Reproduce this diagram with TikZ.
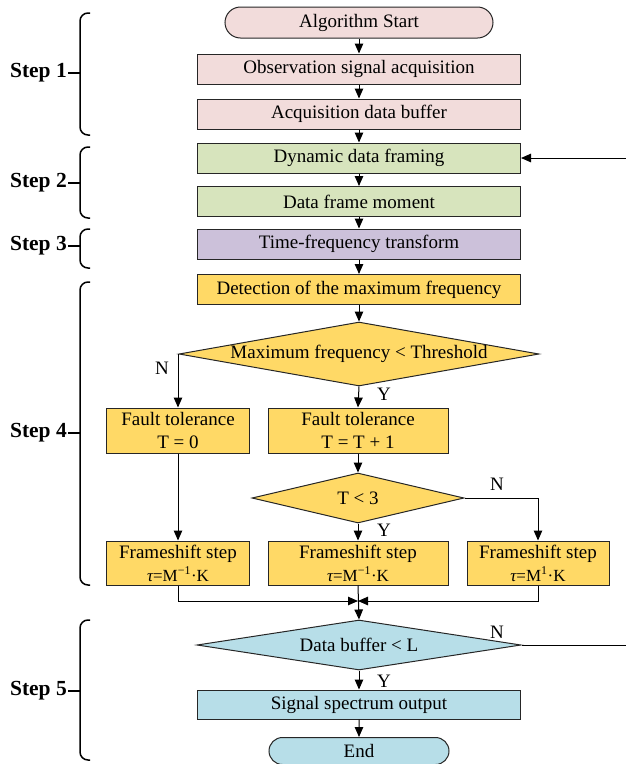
\documentclass[tikz,border=0pt]{standalone}
\usepackage{fontspec}
\setmainfont{Liberation Serif}
\usetikzlibrary{arrows.meta,shapes.geometric,shapes.misc}
\definecolor{pinkbox}{HTML}{F2DCDB}
\definecolor{greenbox}{HTML}{D7E4BD}
\definecolor{purplebox}{HTML}{CCC1DA}
\definecolor{orangebox}{HTML}{FFD966}
\definecolor{bluebox}{HTML}{B7DEE8}
\tikzset{
  >={Triangle[length=10pt,width=8.5pt]},
  box/.style={draw=black!85, line width=1pt, minimum width=323pt, minimum height=30pt, inner sep=0pt, align=center, font=\fontsize{19}{23}\selectfont},
  term/.style={box, rounded rectangle},
  cond/.style={box, diamond, fill=orangebox},
  small/.style={box, fill=orangebox, minimum height=45pt},
  flow/.style={->, line width=1pt},
  yn/.style={font=\fontsize{19}{23}\selectfont},
  steplbl/.style={anchor=east, inner sep=1pt, font=\fontsize{21.5}{25}\selectfont\bfseries},
  bracket/.style={line width=1.5pt, rounded corners=8pt},
}
\newcommand{\shiftrule}[1]{{\fontsize{17}{19}\selectfont\itshape τ\upshape=M\textsuperscript{#1}·K}}

\begin{document}
\begin{tikzpicture}[x=1pt, y=-1pt]
  \useasboundingbox (0,0) rectangle (625,764);

  \node[term, fill=pinkbox, minimum width=268pt, minimum height=31pt] (start) at (359,22.5) {Algorithm Start};
  \node[box, fill=pinkbox] (obs) at (359,69) {Observation signal acquisition};
  \node[box, fill=pinkbox] (acq) at (359,114) {Acquisition data buffer};
  \node[box, fill=greenbox] (dyn) at (359,158) {Dynamic data framing};
  \node[box, fill=greenbox] (dfm) at (359,201.5) {Data frame moment};
  \node[box, fill=purplebox] (tft) at (359,244) {Time-frequency transform};
  \node[box, fill=orangebox] (det) at (359,289.5) {Detection of the maximum frequency};

  \node[cond, minimum width=360pt, minimum height=64pt, aspect=5.6] (maxd) at (359,354) {Maximum frequency < Threshold};
  \node[small, minimum width=143pt] (ft0) at (178,430.5) {Fault tolerance\\T = 0};
  \node[small, minimum width=180pt] (ft1) at (358,430.5) {Fault tolerance\\T = T + 1};
  \node[cond, minimum width=212pt, minimum height=50pt, aspect=4.2] (t3d) at (358,498) {T < 3};

  \node[small, minimum width=143pt, minimum height=44pt] (fs0) at (178,563) {Frameshift step\\\shiftrule{−1}};
  \node[small, minimum width=180pt, minimum height=44pt] (fs1) at (358,563) {Frameshift step\\\shiftrule{−1}};
  \node[small, minimum width=142pt, minimum height=44pt] (fs2) at (538,563) {Frameshift step\\\shiftrule{1}};
  \coordinate (mrg) at (358,601);

  \node[box, diamond, fill=bluebox, minimum width=324pt, minimum height=50pt, aspect=6.5] (dbd) at (359,645) {Data buffer < L};
  \node[box, fill=bluebox, minimum height=29pt] (sso) at (359,704.5) {Signal spectrum output};
  \node[term, fill=bluebox, minimum width=180pt, minimum height=27pt] (end) at (359,751) {End};
  \coordinate (loop) at (632,645);

  \draw[flow] (start) -- (obs);
  \draw[flow] (obs) -- (acq);
  \draw[flow] (acq) -- (dyn);
  \draw[flow] (dyn) -- (dfm);
  \draw[flow] (dfm) -- (tft);
  \draw[flow] (tft) -- (det);
  \draw[flow] (det) -- (maxd);
  \draw[flow] (maxd.west) -| (ft0.north);
  \draw[flow] (maxd.south) -- (ft1.north);
  \draw[flow] (ft1) -- (t3d);
  \draw[flow] (t3d.east) -| (fs2.north);
  \draw[flow] (t3d.south) -- (fs1.north);
  \draw[flow] (ft0) -- (fs0);
  \draw[flow] (fs0.south) |- (mrg);
  \draw[flow] (fs2.south) |- (mrg);
  \draw[flow] (fs1.south) -- (dbd.north);
  \draw[flow] (dbd.east) -- (loop) |- (dyn.east);
  \draw[flow] (dbd.south) -- (sso.north);
  \draw[flow] (sso) -- (end);

  \node[yn] (n1) at (162,368) {N};
  \node[yn] (y1) at (384,394) {Y};
  \node[yn] (n2) at (497,484) {N};
  \node[yn] (y2) at (384,530) {Y};
  \node[yn] (n3) at (497,632) {N};
  \node[yn] (y3) at (384,681) {Y};

  \draw[bracket] (90,13) -- (80,13) -- (80,135) -- (90,135);
  \draw[line width=1.5pt] (68,73) -- (80,73);
  \node[steplbl] (step1) at (68,73) {Step 1};
  \draw[bracket] (90,147) -- (80,147) -- (80,218) -- (90,218);
  \draw[line width=1.5pt] (68,183) -- (80,183);
  \node[steplbl] (step2) at (68,183) {Step 2};
  \draw[bracket] (90,229) -- (80,229) -- (80,268) -- (90,268);
  \draw[line width=1.5pt] (68,246) -- (80,246);
  \node[steplbl] (step3) at (68,246) {Step 3};
  \draw[bracket] (90,282) -- (80,282) -- (80,585) -- (90,585);
  \draw[line width=1.5pt] (68,433) -- (80,433);
  \node[steplbl] (step4) at (68,433) {Step 4};
  \draw[bracket] (90,620) -- (80,620) -- (80,760) -- (90,760);
  \draw[line width=1.5pt] (68,691) -- (80,691);
  \node[steplbl] (step5) at (68,691) {Step 5};
\end{tikzpicture}
\end{document}
